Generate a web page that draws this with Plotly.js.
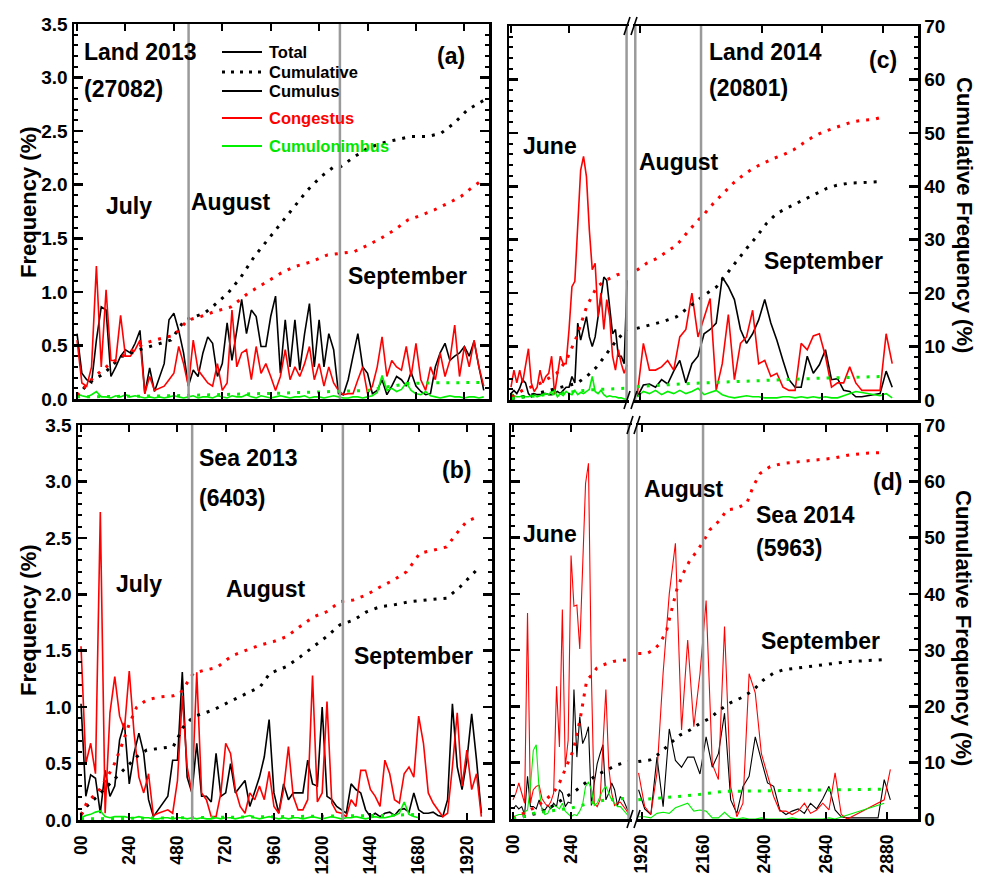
<!DOCTYPE html>
<html>
<head>
<meta charset="utf-8">
<script src="https://cdn.plot.ly/plotly-3.0.1.min.js"></script>
<style>
  html, body { margin: 0; padding: 0; background: #fff; }
  #chart { width: 983px; height: 877px; }
</style>
</head>
<body>
<div id="chart"></div>
<script>
// ---------------- data ----------------
// Frequencies (%) on a regular time grid (hours); null = no record (line bridges the gap)

// Land 2013, grid 0..2016 step 24
const a_step = 24;
const a_cumulus = [0.61,0.24,0.18,0.15,0.55,0.86,0.83,0.21,0.30,0.40,
  0.46,0.43,0.52,0.64,0.05,0.29,0.07,null,0.33,0.74,
  0.80,0.64,0.43,0.12,0.27,0.21,0.43,0.58,0.52,0.21,
  0.33,0.71,0.36,0.64,0.93,0.61,0.83,0.77,0.49,0.49,
  0.77,0.96,0.24,0.74,0.30,0.74,0.27,0.61,0.89,0.30,
  0.74,0.30,0.61,0.46,0.05,0.04,0.18,0.40,0.61,0.30,
  0.24,0.05,0.08,0.18,0.04,0.12,0.21,0.18,0.12,0.25,
  0.12,0.07,0.04,0.05,0.30,0.43,0.52,0.36,0.40,0.43,
  0.49,0.40,0.54,0.30,0.08];
const a_congestus = [0.55,0.15,0.12,0.30,1.24,0.30,1.02,0.36,0.36,0.78,
  0.40,0.40,0.46,0.55,0.05,0.21,0.08,null,0.12,0.18,
  0.24,0.49,0.33,0.12,0.55,0.27,0.21,0.15,0.12,0.33,
  0.08,0.15,0.83,0.30,0.43,0.46,0.18,0.49,0.24,0.33,
  0.21,0.08,0.21,0.46,0.18,0.30,0.21,0.33,0.49,0.18,
  0.33,0.12,0.30,0.15,0.08,0.04,0.05,0.05,0.18,0.30,
  0.05,0.12,0.30,0.58,0.21,0.36,0.30,0.27,0.49,0.21,
  0.52,0.18,0.08,0.30,0.18,0.43,0.21,0.36,0.69,0.21,
  0.49,0.30,0.55,0.30,0.12];
const a_cumulonimbus = [0.05,0.03,0.02,0.04,0.07,0.02,0.02,0.01,0.03,0.02,
  0.04,0.02,0.03,0.02,0.01,0.02,0.01,0.02,0.01,0.02,
  0.03,0.02,0.01,0.02,0.03,0.01,0.02,0.02,0.01,0.03,
  0.02,0.01,0.03,0.02,0.02,0.04,0.02,0.01,0.03,0.02,
  0.01,0.02,0.03,0.02,0.01,0.02,0.02,0.03,0.01,0.02,
  0.02,0.01,0.02,0.03,0.02,0.01,0.01,0.02,0.02,0.01,
  0.02,0.03,0.06,0.22,0.08,0.10,0.07,0.09,0.15,0.08,
  0.05,0.04,0.07,0.03,0.02,0.01,0.02,0.03,0.02,0.02,
  0.01,0.02,0.02,0.01,0.02];
// cumulative frequency (%)
const a_cumCuX = [0,53,135,218,301,383,466,532,581,631,680,747,813,879,945,1011,1077,1143,1209,1275,1308,1374,1441,1506,1572,1655,1738,1804,1870,1936,2018];
const a_cumCu  = [0.4,2.9,4.8,7.9,9.1,10.1,11.0,14.7,15.4,16.0,17.5,19.7,22.8,26.6,29.7,32.8,35.9,39.0,41.5,43.4,43.4,45.2,46.8,47.7,48.3,49.0,49.0,49.6,51.5,54.0,55.8];
const a_cumCgX = [0,86,168,251,334,416,482,548,614,680,763,846,928,1011,1077,1160,1242,1325,1374,1441,1506,1572,1639,1705,1771,1837,1903,1952,2010];
const a_cumCg  = [0.7,4.2,6.7,8.5,10.4,11.3,11.9,14.7,15.4,16.3,17.2,19.7,21.6,23.5,24.7,25.6,26.9,27.2,27.5,28.7,30.0,31.5,33.4,34.3,35.3,36.5,37.8,39.3,40.9];
const a_cumCbX = [0,466,1011,1308,1441,1500,1640,1740,2018];
const a_cumCb  = [0.4,0.6,1.1,1.4,1.6,2.0,2.9,3.0,3.1];

// Sea 2013, grid 0..1992 step 24
const b_step = 24;
const b_cumulus = [1.03,0.21,0.40,0.37,0.06,0.44,0.21,0.30,0.71,0.86,
  0.32,0.59,0.77,0.59,0.18,0.03,null,null,0.21,0.53,
  0.53,1.31,0.38,0.24,0.68,0.21,0.21,0.16,0.59,0.21,
  0.24,0.50,0.24,0.30,0.35,0.12,0.24,0.38,0.56,0.89,
  0.24,0.06,0.32,0.18,0.24,0.24,0.24,0.53,0.32,0.30,
  1.00,0.21,0.18,0.12,0.09,0.06,0.32,0.27,0.24,0.09,
  0.03,0.06,0.03,0.06,0.07,0.04,0.09,0.10,0.07,0.24,
  0.09,0.06,0.06,0.07,0.04,0.03,0.18,1.03,0.47,0.27,
  0.53,0.94,0.53,0.06];
const b_congestus = [1.54,0.50,0.68,0.41,2.73,0.06,0.95,1.27,0.92,0.80,
  1.32,0.77,0.38,0.24,0.41,0.04,0.06,null,0.09,0.06,
  0.35,1.10,0.47,0.24,1.31,0.24,0.18,0.03,0.03,0.24,
  0.68,0.59,0.27,0.12,0.06,0.24,0.18,0.30,0.18,0.43,
  0.12,0.06,0.27,0.65,0.21,0.09,0.09,0.18,1.28,0.16,
  0.24,1.05,0.15,0.07,0.06,0.03,0.18,0.12,0.44,0.44,
  0.27,0.21,0.12,0.53,0.41,0.18,0.15,0.41,0.47,0.38,
  0.92,0.68,0.24,0.15,0.09,0.03,0.06,0.47,0.95,0.30,
  0.62,0.27,0.41,0.03];
const b_cumulonimbus = [0.02,0.04,0.05,0.07,0.08,0.03,0.02,0.03,0.03,0.03,
  0.02,0.02,0.03,0.02,0.02,0.01,0.01,0.02,0.02,0.01,
  0.02,0.02,0.01,0.02,0.01,0.02,0.01,0.01,0.02,0.01,
  0.02,0.02,0.01,0.02,0.03,0.04,0.02,0.01,0.02,0.03,
  0.02,0.01,0.02,0.01,0.02,0.02,0.01,0.02,0.03,0.02,
  0.01,0.02,0.03,0.02,0.01,0.02,0.02,0.03,0.02,0.01,
  0.02,0.03,0.02,0.02,0.03,0.04,0.06,0.16,0.05,0.03,
  0.02];
const b_cumCuX = [0,28,78,144,211,277,327,393,459,509,559,609,658,725,824,891,940,1023,1090,1156,1222,1289,1355,1421,1488,1554,1637,1720,1819,1886,1977];
const b_cumCu  = [0.9,2.4,4.1,6.5,8.9,11.2,12.4,12.7,13.0,16.5,18.3,18.9,19.5,20.7,22.4,23.6,26.0,27.2,28.9,30.7,32.5,34.6,35.4,36.9,37.8,38.1,38.7,39.0,39.3,41.3,44.6];
const b_cumCgX = [0,28,95,161,200,240,277,327,393,459,493,526,559,609,675,725,758,824,891,957,1023,1090,1156,1222,1289,1355,1421,1488,1554,1620,1687,1753,1819,1869,1919,1977];
const b_cumCg  = [0.9,3.0,5.5,9.5,13.0,17.0,20.0,21.3,21.8,22.0,22.4,24.2,26.0,26.5,27.0,28.4,29.2,30.1,31.0,31.6,32.5,34.3,36.0,36.9,38.7,39.0,39.9,41.3,42.5,44.0,47.3,47.8,48.4,50.8,52.9,53.8];
const b_cumCbX = [0,600,1200,1500,1690];
const b_cumCb  = [0.2,0.4,0.6,0.8,1.0];

// Land 2014: June part (0..480 step 12) and Aug-Sep part (1908.. step 24)
const c_stepL = 12, c_startR = 1908, c_stepR = 24;
const c_cumulusL = [0.06,0.09,0.06,0.11,0.19,0.16,0.06,0.03,0.06,0.05,
  0.05,0.06,0.06,0.05,0.05,0.06,0.08,0.06,0.09,0.12,
  0.12,0.22,0.16,0.72,0.56,0.66,0.78,0.59,0.50,0.59,
  0.78,1.00,1.15,1.12,0.84,0.62,0.66,0.41,0.41,0.34,
  1.12];
const c_congestusL = [0.12,0.28,0.16,0.28,0.16,0.31,0.48,0.16,0.08,0.12,
  0.28,0.16,0.22,0.25,0.41,0.06,0.25,0.41,0.34,0.34,
  0.66,1.06,1.11,1.59,2.15,2.28,2.09,1.59,1.22,1.28,
  0.78,1.00,0.66,0.94,0.78,0.41,0.28,0.47,0.34,0.25,
  0.33];
const c_cumulonimbusL = [0.06,0.04,0.03,0.03,0.04,0.03,0.03,0.04,0.05,0.03,
  0.04,0.05,0.06,0.05,0.08,0.09,0.03,0.06,0.04,0.08,
  0.06,0.05,0.09,0.05,0.07,0.06,0.08,0.10,0.22,0.08,
  0.06,0.09,0.05,0.03,0.04,0.03,0.03,0.02,0.02,0.01,
  0.01];
const c_cumulusR = [0.03,0.14,0.15,0.12,0.19,0.15,0.27,0.37,0.16,0.34,
  0.41,0.62,0.66,0.72,1.15,1.06,0.94,0.66,0.53,0.62,
  0.75,0.94,0.72,0.56,0.37,0.19,0.12,0.12,0.41,0.25,
  0.33,0.47,0.19,0.20,0.09,0.08,0.03,0.03,null,null,
  0.06,0.27,0.12];
const c_congestusR = [0.05,0.53,0.28,0.28,0.31,0.37,0.28,0.59,0.66,1.00,
  0.59,0.78,0.95,0.09,0.34,0.80,0.19,0.53,0.59,0.84,
  0.34,0.37,0.22,0.25,0.12,0.09,0.09,0.53,0.47,0.60,
  0.62,0.41,0.12,0.16,0.16,0.31,0.16,0.09,0.09,0.09,
  0.09,0.62,0.34];
const c_cumulonimbusR = [0.03,0.08,0.06,0.09,0.05,0.08,0.06,0.09,0.06,0.08,
  0.11,0.05,0.07,0.09,0.05,0.03,0.02,0.03,0.04,0.03,
  0.03,0.02,0.02,0.02,0.03,0.03,0.02,0.03,0.02,0.03,
  0.02,0.03,0.02,0.02,0.04,0.06,0.08,0.07,0.06,0.05,
  0.04,0.06,0.02];
const c_cumCuLX = [3,51,106,161,216,272,313,355,396,437,479];
const c_cumCuL  = [0.3,0.6,1.2,1.9,2.5,3.1,4.4,6.2,8.7,11.2,13.2];
const c_cumCuRX = [1906,1958,2011,2064,2116,2169,2222,2262,2301,2341,2380,2420,2459,2499,2539,2578,2618,2657,2697,2749,2802,2881];
const c_cumCuR  = [13.4,14.0,14.7,15.6,17.5,19.5,21.2,23.7,26.0,28.4,30.6,33.1,34.9,35.9,36.8,37.8,38.7,39.6,40.2,40.6,40.7,40.9];
const c_cumCgLX = [3,51,120,189,230,272,313,355,396,437,479];
const c_cumCgL  = [0.6,1.9,3.1,5.0,7.5,11.9,17.5,21.2,22.5,23.4,24.0];
const c_cumCgRX = [1906,1945,1985,2024,2064,2103,2143,2169,2209,2248,2288,2327,2367,2406,2446,2486,2525,2565,2604,2644,2683,2723,2762,2802,2842,2881];
const c_cumCgR  = [24.3,25.6,26.5,27.8,29.0,31.2,33.4,34.6,36.8,38.7,40.6,42.1,43.4,44.3,45.2,45.9,46.8,48.1,49.3,50.2,50.9,51.5,52.1,52.4,52.5,53.0];
const c_cumCbLX = [3,189,327,479];
const c_cumCbL  = [0.3,1.2,1.9,2.2];
const c_cumCbRX = [1906,2116,2380,2644,2881];
const c_cumCbR  = [2.5,3.1,3.6,4.1,4.4];

// Sea 2014
const d_stepL = 12, d_startR = 1908, d_stepR = 24;
const d_cumulusL = [0.09,0.12,0.09,0.11,0.04,0.38,0.11,0.11,0.09,0.17,
  0.09,0.08,0.12,0.09,0.14,0.11,0.26,0.23,0.11,0.15,
  0.14,1.15,0.55,0.91,0.67,0.73,0.82,0.12,0.32,0.49,
  0.58,0.66,0.17,0.23,0.32,0.26,0.12,0.20,0.17,0.11,
  0.05];
const d_congestusL = [0.17,0.23,0.32,0.23,0.14,1.83,0.14,0.26,0.29,0.30,
  0.18,0.14,0.11,0.15,0.23,1.18,0.64,1.86,0.46,0.70,
  2.34,1.89,1.90,1.51,2.18,2.98,3.16,1.29,0.14,0.11,
  0.17,0.70,1.15,0.46,0.23,0.12,0.14,0.15,0.12,0.08,
  0.04];
const d_cumulonimbusL = [0.02,0.03,0.04,0.04,0.06,0.08,0.29,0.61,0.66,0.26,
  0.08,0.04,0.05,0.11,0.12,0.11,0.09,0.14,0.07,0.04,
  0.02,0.04,0.03,0.07,0.13,0.29,0.33,0.26,0.12,0.14,
  0.20,0.26,0.29,0.23,0.17,0.14,0.11,0.11,0.08,0.05,
  0.02];
const d_cumulusR = [0.26,0.09,0.04,0.55,0.11,0.80,0.52,0.46,0.55,0.55,
  0.40,0.73,0.46,0.58,0.94,0.17,0.05,0.29,0.38,0.73,
  0.52,0.32,0.29,0.08,0.04,0.07,0.09,0.05,0.14,0.09,
  0.18,0.29,0.08,0.02,0.01,null,null,null,null,0.01,
  0.35,0.17];
const d_congestusR = [0.41,0.11,0.04,0.41,1.30,2.00,2.45,0.79,1.59,0.82,
  1.29,1.94,0.49,0.35,1.71,0.29,0.02,0.14,1.29,1.12,
  0.58,0.38,0.20,0.07,0.07,0.04,0.07,0.14,0.05,0.08,
  0.14,0.08,0.41,0.04,0.00,null,null,null,null,null,
  0.17,0.44];
const d_cumulonimbusR = [0.02,0.02,0.01,0.05,0.06,0.05,0.10,0.12,0.14,0.07,
  0.08,0.07,0.01,0.01,0.06,0.01,0.00,0.01,0.00,0.00,
  0.01,0.00,0.00,0.00,0.00,0.01,0.00,0.00,0.00,0.00,
  0.00,0.01,0.00,null,null,null,null,null,null,null,
  0.14];
const d_cumCuLX = [0,43,98,139,181,222,264,305,346,388,429,477];
const d_cumCuL  = [0.0,0.4,1.0,1.6,2.8,4.0,5.2,6.6,7.8,8.7,9.6,10.2];
const d_cumCuRX = [1907,1953,1992,2031,2070,2109,2148,2187,2226,2265,2317,2356,2396,2435,2474,2526,2578,2630,2682,2734,2786,2864];
const d_cumCuR  = [10.2,10.5,11.7,13.4,14.9,15.8,17.0,17.9,19.4,20.6,21.7,22.9,24.7,25.9,26.5,26.8,27.1,27.4,27.7,28.0,28.1,28.3];
const d_cumCgLX = [0,43,84,125,167,194,222,250,277,305,326,346,374,415,477];
const d_cumCgL  = [0.1,1.0,1.9,3.1,4.6,6.6,9.3,12.3,17.6,24.7,25.6,26.8,27.4,28.0,28.3];
const d_cumCgRX = [1907,1940,1966,1992,2018,2038,2057,2083,2109,2135,2161,2187,2226,2253,2292,2331,2356,2383,2422,2474,2539,2604,2669,2734,2799,2864];
const d_cumCgR  = [29.4,29.4,30.0,31.2,33.6,37.1,40.7,43.7,46.0,47.5,49.3,51.4,53.1,54.9,55.2,56.1,59.1,61.4,62.6,63.2,63.5,63.8,64.1,64.7,65.0,65.1];
const d_cumCbLX = [0,43,84,125,181,236,291,346,388,429,477];
const d_cumCbL  = [0.1,0.4,1.0,1.3,1.6,1.9,2.5,3.1,3.4,3.6,3.7];
const d_cumCbRX = [1907,1979,2057,2135,2239,2370,2500,2630,2760,2864];
const d_cumCbR  = [3.4,3.7,4.0,4.3,4.9,5.0,5.0,5.2,5.3,5.3];

// month boundaries (hours)
const edges2013 = [553, 1303];
const edges2014June = [478];
const edges2014AugSep = [1900, 2160];

// tick labels
const ticks2013 = [0, 240, 480, 720, 960, 1200, 1440, 1680, 1920];
const tickText2013 = ['00', '240', '480', '720', '960', '1200', '1440', '1680', '1920'];
const ticks2014June = [0, 240];
const tickText2014June = ['00', '240'];
const ticks2014AugSep = [1920, 2160, 2400, 2640, 2880];
const tickText2014AugSep = ['1920', '2160', '2400', '2640', '2880'];

// ---------------- drawing ----------------
const W = 983, H = 877;
const fx = p => p / W;
const fy = p => 1 - p / H;
const FONT = 'Liberation Sans, Arial, Helvetica, sans-serif';
const RED = '#ff0000', GREEN = '#00f000', BLACK = '#000000', GRAY = '#9a9a9a';

const gridX = (start, step, vals) => vals.map((_, i) => start + i * step);

const traces = [];
function solid(x, y, color, xa, ya, w) {
  traces.push({type: 'scatter', mode: 'lines', x, y, xaxis: xa, yaxis: ya,
    line: {color, width: w}, connectgaps: true, hoverinfo: 'skip', showlegend: false});
}
function dotted(x, y, color, xa, ya) {
  traces.push({type: 'scatter', mode: 'lines', x, y, xaxis: xa, yaxis: ya,
    line: {color, width: 3, dash: '3px,7px'}, hoverinfo: 'skip', showlegend: false});
}

// (a)
{
  const x = gridX(0, a_step, a_cumulus);
  solid(x, a_cumulus, BLACK, 'x', 'y', 1.6);
  solid(x, a_congestus, RED, 'x', 'y', 1.6);
  solid(x, a_cumulonimbus, GREEN, 'x', 'y', 1.6);
  dotted(a_cumCuX, a_cumCu, BLACK, 'x', 'y5');
  dotted(a_cumCgX, a_cumCg, RED, 'x', 'y5');
  dotted(a_cumCbX, a_cumCb, GREEN, 'x', 'y5');
}
// (b)
{
  const x = gridX(0, b_step, b_cumulus);
  solid(x, b_cumulus, BLACK, 'x2', 'y2', 1.6);
  solid(x, b_congestus, RED, 'x2', 'y2', 1.6);
  solid(gridX(0, b_step, b_cumulonimbus), b_cumulonimbus, GREEN, 'x2', 'y2', 1.6);
  dotted(b_cumCuX, b_cumCu, BLACK, 'x2', 'y6');
  dotted(b_cumCgX, b_cumCg, RED, 'x2', 'y6');
  dotted(b_cumCbX, b_cumCb, GREEN, 'x2', 'y6');
}
// (c)
{
  const xl = gridX(0, c_stepL, c_cumulusL);
  const xr = gridX(c_startR, c_stepR, c_cumulusR);
  solid(xl, c_cumulusL, BLACK, 'x3', 'y3', 1.6);
  solid(xl, c_congestusL, RED, 'x3', 'y3', 1.6);
  solid(xl, c_cumulonimbusL, GREEN, 'x3', 'y3', 1.6);
  solid(xr, c_cumulusR, BLACK, 'x4', 'y3', 1.6);
  solid(xr, c_congestusR, RED, 'x4', 'y3', 1.6);
  solid(xr, c_cumulonimbusR, GREEN, 'x4', 'y3', 1.6);
  dotted(c_cumCuLX, c_cumCuL, BLACK, 'x3', 'y7');
  dotted(c_cumCgLX, c_cumCgL, RED, 'x3', 'y7');
  dotted(c_cumCbLX, c_cumCbL, GREEN, 'x3', 'y7');
  dotted(c_cumCuRX, c_cumCuR, BLACK, 'x4', 'y7');
  dotted(c_cumCgRX, c_cumCgR, RED, 'x4', 'y7');
  dotted(c_cumCbRX, c_cumCbR, GREEN, 'x4', 'y7');
}
// (d)
{
  const xl = gridX(0, d_stepL, d_cumulusL);
  const xr = gridX(d_startR, d_stepR, d_cumulusR);
  solid(xl, d_cumulusL, BLACK, 'x5', 'y4', 1.1);
  solid(xl, d_congestusL, RED, 'x5', 'y4', 1.1);
  solid(xl, d_cumulonimbusL, GREEN, 'x5', 'y4', 1.1);
  solid(xr, d_cumulusR, BLACK, 'x6', 'y4', 1.1);
  solid(xr, d_congestusR, RED, 'x6', 'y4', 1.1);
  solid(gridX(d_startR, d_stepR, d_cumulonimbusR), d_cumulonimbusR, GREEN, 'x6', 'y4', 1.1);
  dotted(d_cumCuLX, d_cumCuL, BLACK, 'x5', 'y8');
  dotted(d_cumCgLX, d_cumCgL, RED, 'x5', 'y8');
  dotted(d_cumCbLX, d_cumCbL, GREEN, 'x5', 'y8');
  dotted(d_cumCuRX, d_cumCuR, BLACK, 'x6', 'y8');
  dotted(d_cumCgRX, d_cumCgR, RED, 'x6', 'y8');
  dotted(d_cumCbRX, d_cumCbR, GREEN, 'x6', 'y8');
}

// axes
const tickFont = {family: FONT, size: 19, color: BLACK, weight: 700};
const xTickFont = {family: FONT, size: 17.5, color: BLACK, weight: 700};
function xAxis(domain, range, anchor, vals, text, labels) {
  return {domain, range, anchor, tickmode: 'array', tickvals: vals, ticktext: text,
    showticklabels: labels, tickangle: -90, tickfont: xTickFont, ticklabelstandoff: 6,
    ticks: 'inside', ticklen: 7, tickwidth: 2, tickcolor: BLACK,
    showline: true, linewidth: 2.5, linecolor: BLACK, mirror: 'ticks',
    showgrid: false, zeroline: false, fixedrange: true};
}
function yAxis(domain, anchor, labels, mirror) {
  return {domain, anchor, range: [0, 3.5], dtick: 0.5, tick0: 0, tickformat: '.1f',
    showticklabels: labels, tickfont: tickFont,
    ticks: 'inside', ticklen: 9, tickwidth: 2.5, tickcolor: BLACK,
    minor: {dtick: 0.1, ticklen: 4, tickwidth: 2, tickcolor: BLACK, ticks: 'inside', showgrid: false},
    showline: true, linewidth: 2.5, linecolor: BLACK, mirror: mirror ? 'ticks' : false,
    showgrid: false, zeroline: false, fixedrange: true};
}
function cumAxis(over, anchor, shown) {
  if (!shown) return {overlaying: over, anchor, range: [0, 70], visible: false, fixedrange: true};
  return {overlaying: over, anchor, side: 'right', range: [0, 70], dtick: 10, tick0: 0,
    tickfont: tickFont, ticks: 'inside', ticklen: 9, tickwidth: 2.5, tickcolor: BLACK,
    minor: {dtick: 2, ticklen: 4, tickwidth: 2, tickcolor: BLACK, ticks: 'inside', showgrid: false},
    showline: true, linewidth: 2.5, linecolor: BLACK,
    showgrid: false, zeroline: false, fixedrange: true};
}

const dA = {x: [fx(74), fx(489)], y: [fy(399), fy(24)]};
const dB = {x: [fx(78), fx(492)], y: [fy(820), fy(425)]};
const dC = {xl: [fx(509), fx(629)], xr: [fx(633), fx(918)], y: [fy(400), fy(26)]};
const dD = {xl: [fx(511), fx(632)], xr: [fx(636), fx(918)], y: [fy(819), fy(425)]};

const layout = {
  width: W, height: H, margin: {l: 0, r: 0, t: 0, b: 0},
  paper_bgcolor: '#fff', plot_bgcolor: 'rgba(0,0,0,0)', showlegend: false,
  font: {family: FONT, color: BLACK},
  xaxis:  xAxis(dA.x, [-15, 2042], 'y', ticks2013, tickText2013, false),
  yaxis:  yAxis(dA.y, 'x', true, true),
  xaxis2: xAxis(dB.x, [-15, 2045], 'y2', ticks2013, tickText2013, true),
  yaxis2: yAxis(dB.y, 'x2', true, true),
  xaxis3: xAxis(dC.xl, [-8.3, 488], 'y3', ticks2014June, tickText2014June, false),
  xaxis4: xAxis(dC.xr, [1891, 3018], 'y3', ticks2014AugSep, tickText2014AugSep, false),
  yaxis3: yAxis(dC.y, 'x3', false, false),
  xaxis5: xAxis(dD.xl, [-8.3, 492], 'y4', ticks2014June, tickText2014June, true),
  xaxis6: xAxis(dD.xr, [1898, 3000], 'y4', ticks2014AugSep, tickText2014AugSep, true),
  yaxis4: yAxis(dD.y, 'x5', false, false),
  yaxis5: cumAxis('y', 'x', false),
  yaxis6: cumAxis('y2', 'x2', false),
  yaxis7: cumAxis('y3', 'x4', true),
  yaxis8: cumAxis('y4', 'x6', true),
  shapes: [],
  annotations: []
};

// month boundary lines
function vline(xref, yref, v) {
  layout.shapes.push({type: 'line', xref, yref: yref + ' domain', x0: v, x1: v, y0: 0, y1: 1,
    line: {color: GRAY, width: 2.5}});
}
edges2013.forEach(v => { vline('x', 'y', v); vline('x2', 'y2', v); });
edges2014June.forEach(v => { vline('x3', 'y3', v); vline('x5', 'y4', v); });
edges2014AugSep.forEach(v => { vline('x4', 'y3', v); vline('x6', 'y4', v); });

// axis break marks "//"
function breakMark(xpx, ypx) {
  [0, 7].forEach(off => layout.shapes.push({type: 'line', xref: 'paper', yref: 'paper',
    x0: fx(xpx + off - 3), y0: fy(ypx + 9), x1: fx(xpx + off + 3), y1: fy(ypx - 9),
    line: {color: BLACK, width: 1.6}}));
}
breakMark(627, 400); breakMark(627, 26);
breakMark(630, 819); breakMark(630, 425);

// legend of panel (a)
const legendRows = [
  {label: 'Total', color: BLACK, dash: 'solid', y: 52},
  {label: 'Cumulative', color: BLACK, dash: '3px,6px', y: 72},
  {label: 'Cumulus', color: BLACK, dash: 'solid', y: 91},
  {label: 'Congestus', color: RED, dash: 'solid', y: 118},
  {label: 'Cumulonimbus', color: GREEN, dash: 'solid', y: 146}
];
legendRows.forEach(r => {
  layout.shapes.push({type: 'line', xref: 'paper', yref: 'paper',
    x0: fx(222), x1: fx(262), y0: fy(r.y), y1: fy(r.y),
    line: {color: r.color, width: r.dash === 'solid' ? 1.8 : 3, dash: r.dash}});
  layout.annotations.push({xref: 'paper', yref: 'paper', x: fx(267), y: fy(r.y),
    xanchor: 'left', yanchor: 'middle', showarrow: false, text: r.label,
    font: {family: FONT, size: 16.5, weight: 700, color: r.color === GREEN ? '#00e600' : r.color}});
});

// panel texts
function label(text, xpx, ypx, anchor, size, angle) {
  layout.annotations.push({xref: 'paper', yref: 'paper', x: fx(xpx), y: fy(ypx),
    xanchor: anchor || 'left', yanchor: 'middle', showarrow: false, text,
    textangle: angle || 0, font: {family: FONT, size: size || 23, weight: 700, color: BLACK}});
}
label('Land 2013', 82, 52); label('(27082)', 82, 89); label('(a)', 451, 56, 'center');
label('July', 104, 206); label('August', 189, 202); label('September', 346, 276);
label('Sea 2013', 197, 458); label('(6403)', 197, 498); label('(b)', 456, 470, 'center');
label('July', 114, 584); label('August', 224, 589); label('September', 352, 656);
label('Land 2014', 707, 52); label('(20801)', 707, 88); label('(c)', 883, 60, 'center');
label('June', 521, 146); label('August', 637, 162); label('September', 762, 261);
label('June', 521, 534); label('August', 642, 489); label('Sea 2014', 754, 515);
label('(5963)', 754, 548); label('(d)', 887, 482, 'center'); label('September', 759, 641);

label('Frequency (%)', 28, 202, 'center', 22, -90);
label('Frequency (%)', 28, 620, 'center', 22, -90);
label('Cumulative Frequency (%)', 964, 215, 'center', 22, 90);
label('Cumulative Frequency (%)', 964, 628, 'center', 22, 90);

Plotly.newPlot('chart', traces, layout, {staticPlot: true, displayModeBar: false});
</script>
</body>
</html>
